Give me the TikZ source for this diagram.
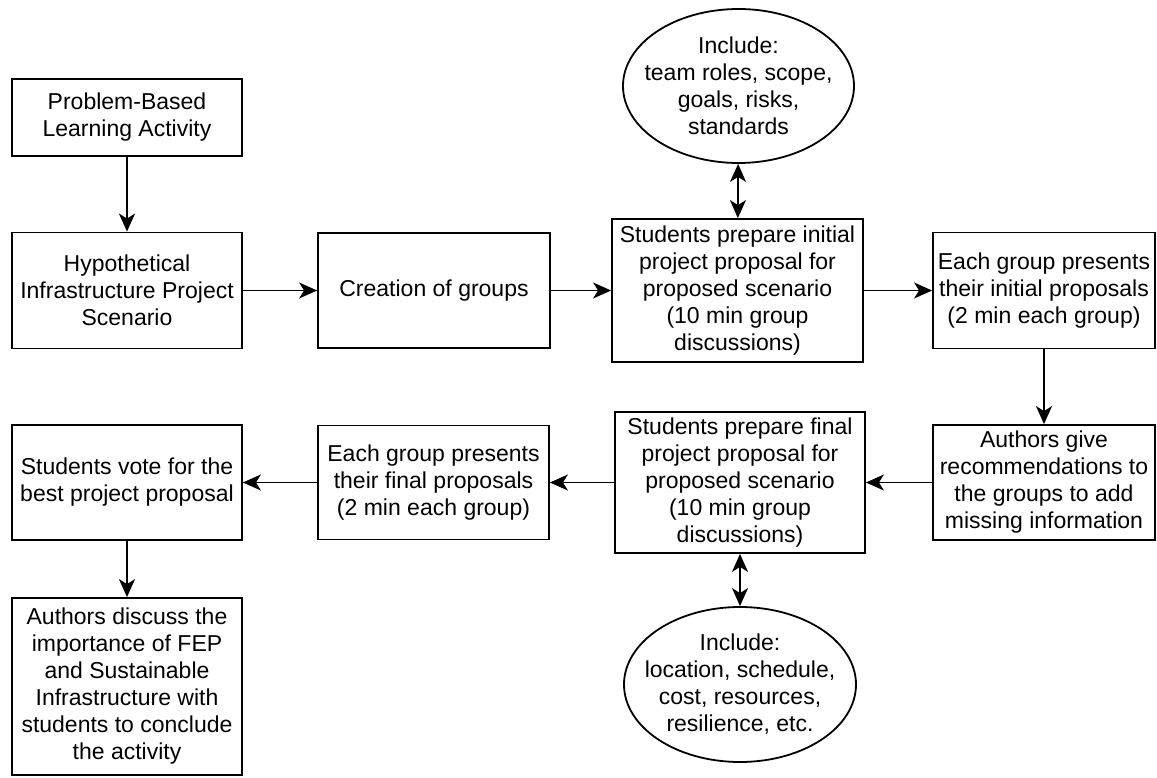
\documentclass[tikz,border=0pt]{standalone}
\usepackage{fontspec}
\setmainfont{Liberation Sans}
\usetikzlibrary{arrows.meta,shapes.geometric}
\begin{document}
\begin{tikzpicture}[x=1pt,y=-1pt,
  every node/.style={font=\fontsize{23}{27}\selectfont, align=center, inner sep=0pt},
  box/.style={draw, line width=1.8pt, rectangle},
  oval/.style={draw, line width=1.8pt, ellipse, inner xsep=-30pt, inner ysep=-5pt},
  tip/.tip={Stealth[length=18pt,width=16pt,inset=5pt]},
  conn/.style={line width=1.8pt, -tip},
  bconn/.style={line width=1.8pt, tip-tip}
]
\useasboundingbox (0,0) rectangle (1157,778);
% boxes
\node[box, minimum width=230pt, minimum height=77pt] (pbl) at (127,117.5) {Problem-Based\\Learning Activity};
\node[box, minimum width=230pt, minimum height=116pt] (hyp) at (127,290.5) {Hypothetical\\Infrastructure Project\\Scenario};
\node[box, minimum width=232pt, minimum height=115pt] (cre) at (434,290.5) {Creation of groups};
\node[box, minimum width=251pt, minimum height=143pt] (ini) at (737.5,290.5) {Students prepare initial\\project proposal for\\proposed scenario\\(10 min group\\discussions)};
\node[oval, minimum width=231pt, minimum height=154pt] (el1) at (738.5,86) {Include:\\team roles, scope,\\goals, risks,\\standards};
\node[box, minimum width=222pt, minimum height=116pt] (pin) at (1044,290.5) {Each group presents\\their initial proposals\\(2 min each group)};
\node[box, minimum width=222pt, minimum height=115pt] (rec) at (1044,482.5) {Authors give\\recommendations to\\the groups to add\\missing information};
\node[box, minimum width=250pt, minimum height=141pt] (fin) at (740,482.5) {Students prepare final\\project proposal for\\proposed scenario\\(10 min group\\discussions)};
\node[oval, minimum width=232pt, minimum height=155pt] (el2) at (740,684.5) {Include:\\location, schedule,\\cost, resources,\\resilience, etc.};
\node[box, minimum width=231pt, minimum height=114pt] (pfi) at (433.5,482.5) {Each group presents\\their final proposals\\(2 min each group)};
\node[box, minimum width=230pt, minimum height=115pt] (vote) at (127,482.5) {Students vote for the\\best project proposal};
\node[box, minimum width=230pt, minimum height=177pt] (disc) at (127,686.5) {Authors discuss the\\importance of FEP\\and Sustainable\\Infrastructure with\\students to conclude\\the activity};
% connectors
\draw[conn] (pbl) -- (hyp);
\draw[conn] (hyp) -- (cre);
\draw[conn] (cre) -- (ini);
\draw[conn] (ini) -- (pin);
\draw[bconn] (el1) -- (ini);
\draw[conn] (pin) -- (rec);
\draw[conn] (rec) -- (fin);
\draw[conn] (fin) -- (pfi);
\draw[conn] (pfi) -- (vote);
\draw[bconn] (fin) -- (el2);
\draw[conn] (vote) -- (disc);
\end{tikzpicture}
\end{document}
